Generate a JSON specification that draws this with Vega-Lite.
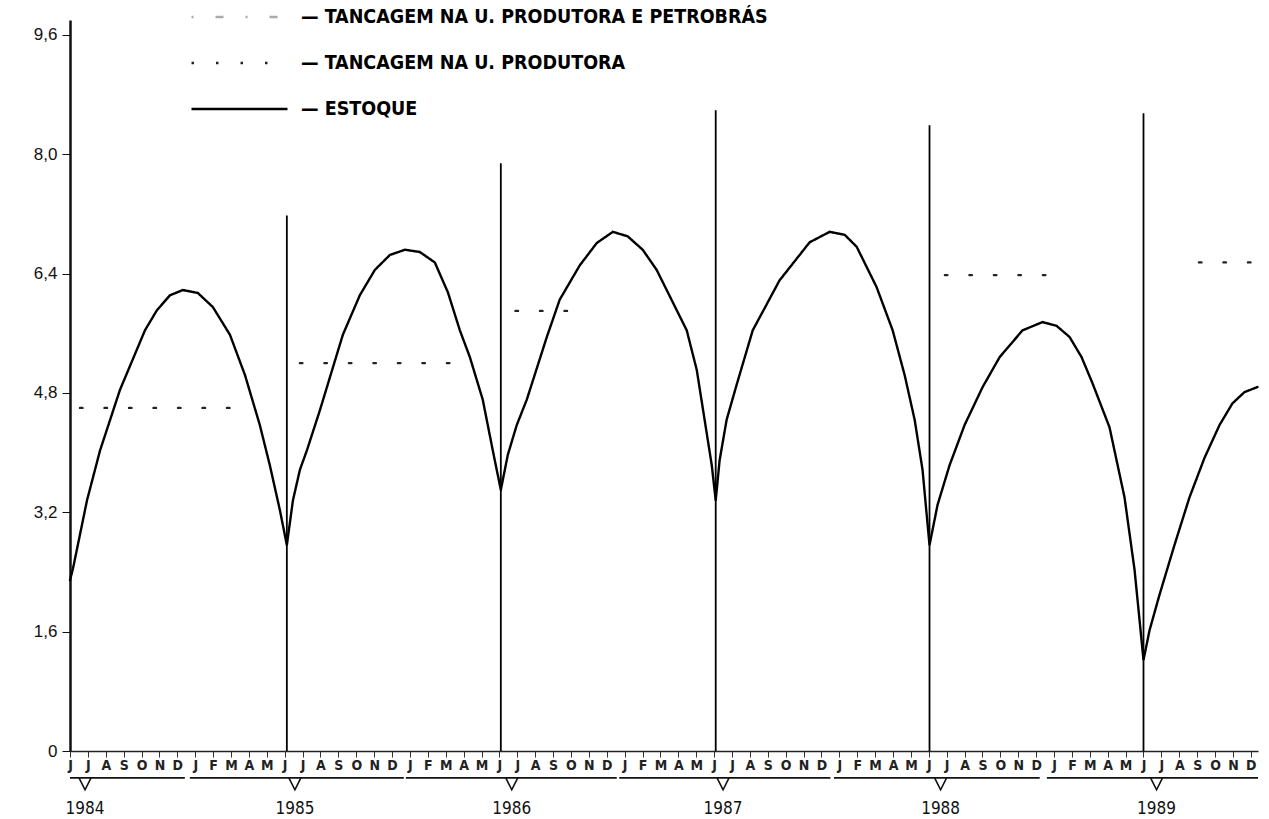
{
  "$schema": "https://vega.github.io/schema/vega-lite/v6.json",
  "width": 1188,
  "height": 731,
  "autosize": {"type": "none"},
  "padding": {"left": 70, "top": 20, "right": 11, "bottom": 68},
  "background": "white",
  "config": {
    "view": {"stroke": null},
    "font": "Liberation Sans Narrow, DejaVu Sans Condensed, Liberation Sans"
  },
  "resolve": {"axis": {"x": "independent", "y": "independent"}},
  "datasets": {
    "series": [
      {"serie": "ESTOQUE", "seg": "e", "mes": 0.00, "valor": 2.29},
      {"serie": "ESTOQUE", "seg": "e", "mes": 0.17, "valor": 2.45},
      {"serie": "ESTOQUE", "seg": "e", "mes": 0.95, "valor": 3.36},
      {"serie": "ESTOQUE", "seg": "e", "mes": 1.68, "valor": 4.03},
      {"serie": "ESTOQUE", "seg": "e", "mes": 2.79, "valor": 4.84},
      {"serie": "ESTOQUE", "seg": "e", "mes": 4.19, "valor": 5.64},
      {"serie": "ESTOQUE", "seg": "e", "mes": 4.86, "valor": 5.91},
      {"serie": "ESTOQUE", "seg": "e", "mes": 5.59, "valor": 6.11},
      {"serie": "ESTOQUE", "seg": "e", "mes": 6.31, "valor": 6.18},
      {"serie": "ESTOQUE", "seg": "e", "mes": 7.15, "valor": 6.14},
      {"serie": "ESTOQUE", "seg": "e", "mes": 7.99, "valor": 5.95},
      {"serie": "ESTOQUE", "seg": "e", "mes": 8.94, "valor": 5.58},
      {"serie": "ESTOQUE", "seg": "e", "mes": 9.78, "valor": 5.04},
      {"serie": "ESTOQUE", "seg": "e", "mes": 10.61, "valor": 4.37},
      {"serie": "ESTOQUE", "seg": "e", "mes": 11.17, "valor": 3.83},
      {"serie": "ESTOQUE", "seg": "e", "mes": 11.73, "valor": 3.23},
      {"serie": "ESTOQUE", "seg": "e", "mes": 12.12, "valor": 2.76},
      {"serie": "ESTOQUE", "seg": "e", "mes": 12.46, "valor": 3.36},
      {"serie": "ESTOQUE", "seg": "e", "mes": 12.85, "valor": 3.77},
      {"serie": "ESTOQUE", "seg": "e", "mes": 13.24, "valor": 4.03},
      {"serie": "ESTOQUE", "seg": "e", "mes": 13.97, "valor": 4.57},
      {"serie": "ESTOQUE", "seg": "e", "mes": 15.25, "valor": 5.58},
      {"serie": "ESTOQUE", "seg": "e", "mes": 16.20, "valor": 6.11},
      {"serie": "ESTOQUE", "seg": "e", "mes": 17.04, "valor": 6.45},
      {"serie": "ESTOQUE", "seg": "e", "mes": 17.88, "valor": 6.65},
      {"serie": "ESTOQUE", "seg": "e", "mes": 18.72, "valor": 6.72},
      {"serie": "ESTOQUE", "seg": "e", "mes": 19.55, "valor": 6.69},
      {"serie": "ESTOQUE", "seg": "e", "mes": 20.39, "valor": 6.55},
      {"serie": "ESTOQUE", "seg": "e", "mes": 21.12, "valor": 6.15},
      {"serie": "ESTOQUE", "seg": "e", "mes": 21.79, "valor": 5.64},
      {"serie": "ESTOQUE", "seg": "e", "mes": 22.35, "valor": 5.28},
      {"serie": "ESTOQUE", "seg": "e", "mes": 23.07, "valor": 4.71},
      {"serie": "ESTOQUE", "seg": "e", "mes": 23.63, "valor": 4.03},
      {"serie": "ESTOQUE", "seg": "e", "mes": 24.08, "valor": 3.50},
      {"serie": "ESTOQUE", "seg": "e", "mes": 24.47, "valor": 3.97},
      {"serie": "ESTOQUE", "seg": "e", "mes": 24.97, "valor": 4.37},
      {"serie": "ESTOQUE", "seg": "e", "mes": 25.53, "valor": 4.71},
      {"serie": "ESTOQUE", "seg": "e", "mes": 26.65, "valor": 5.55},
      {"serie": "ESTOQUE", "seg": "e", "mes": 27.37, "valor": 6.05},
      {"serie": "ESTOQUE", "seg": "e", "mes": 28.49, "valor": 6.51},
      {"serie": "ESTOQUE", "seg": "e", "mes": 29.44, "valor": 6.81},
      {"serie": "ESTOQUE", "seg": "e", "mes": 30.34, "valor": 6.96},
      {"serie": "ESTOQUE", "seg": "e", "mes": 31.17, "valor": 6.90},
      {"serie": "ESTOQUE", "seg": "e", "mes": 32.01, "valor": 6.72},
      {"serie": "ESTOQUE", "seg": "e", "mes": 32.79, "valor": 6.45},
      {"serie": "ESTOQUE", "seg": "e", "mes": 33.35, "valor": 6.18},
      {"serie": "ESTOQUE", "seg": "e", "mes": 34.47, "valor": 5.64},
      {"serie": "ESTOQUE", "seg": "e", "mes": 35.03, "valor": 5.11},
      {"serie": "ESTOQUE", "seg": "e", "mes": 35.47, "valor": 4.44},
      {"serie": "ESTOQUE", "seg": "e", "mes": 35.87, "valor": 3.83},
      {"serie": "ESTOQUE", "seg": "e", "mes": 36.09, "valor": 3.36},
      {"serie": "ESTOQUE", "seg": "e", "mes": 36.31, "valor": 3.90},
      {"serie": "ESTOQUE", "seg": "e", "mes": 36.70, "valor": 4.44},
      {"serie": "ESTOQUE", "seg": "e", "mes": 37.26, "valor": 4.91},
      {"serie": "ESTOQUE", "seg": "e", "mes": 38.16, "valor": 5.64},
      {"serie": "ESTOQUE", "seg": "e", "mes": 39.66, "valor": 6.31},
      {"serie": "ESTOQUE", "seg": "e", "mes": 41.34, "valor": 6.82},
      {"serie": "ESTOQUE", "seg": "e", "mes": 42.46, "valor": 6.96},
      {"serie": "ESTOQUE", "seg": "e", "mes": 43.30, "valor": 6.92},
      {"serie": "ESTOQUE", "seg": "e", "mes": 43.97, "valor": 6.76},
      {"serie": "ESTOQUE", "seg": "e", "mes": 45.08, "valor": 6.22},
      {"serie": "ESTOQUE", "seg": "e", "mes": 45.98, "valor": 5.64},
      {"serie": "ESTOQUE", "seg": "e", "mes": 46.65, "valor": 5.04},
      {"serie": "ESTOQUE", "seg": "e", "mes": 47.21, "valor": 4.44},
      {"serie": "ESTOQUE", "seg": "e", "mes": 47.65, "valor": 3.77},
      {"serie": "ESTOQUE", "seg": "e", "mes": 48.04, "valor": 2.76},
      {"serie": "ESTOQUE", "seg": "e", "mes": 48.49, "valor": 3.30},
      {"serie": "ESTOQUE", "seg": "e", "mes": 49.16, "valor": 3.83},
      {"serie": "ESTOQUE", "seg": "e", "mes": 50.00, "valor": 4.37},
      {"serie": "ESTOQUE", "seg": "e", "mes": 51.01, "valor": 4.88},
      {"serie": "ESTOQUE", "seg": "e", "mes": 51.96, "valor": 5.28},
      {"serie": "ESTOQUE", "seg": "e", "mes": 53.24, "valor": 5.64},
      {"serie": "ESTOQUE", "seg": "e", "mes": 54.36, "valor": 5.75},
      {"serie": "ESTOQUE", "seg": "e", "mes": 55.14, "valor": 5.70},
      {"serie": "ESTOQUE", "seg": "e", "mes": 55.87, "valor": 5.55},
      {"serie": "ESTOQUE", "seg": "e", "mes": 56.54, "valor": 5.28},
      {"serie": "ESTOQUE", "seg": "e", "mes": 57.15, "valor": 4.93},
      {"serie": "ESTOQUE", "seg": "e", "mes": 58.10, "valor": 4.34},
      {"serie": "ESTOQUE", "seg": "e", "mes": 58.94, "valor": 3.40},
      {"serie": "ESTOQUE", "seg": "e", "mes": 59.50, "valor": 2.43},
      {"serie": "ESTOQUE", "seg": "e", "mes": 60.00, "valor": 1.22},
      {"serie": "ESTOQUE", "seg": "e", "mes": 60.34, "valor": 1.62},
      {"serie": "ESTOQUE", "seg": "e", "mes": 60.89, "valor": 2.09},
      {"serie": "ESTOQUE", "seg": "e", "mes": 61.73, "valor": 2.76},
      {"serie": "ESTOQUE", "seg": "e", "mes": 62.57, "valor": 3.40},
      {"serie": "ESTOQUE", "seg": "e", "mes": 63.41, "valor": 3.93},
      {"serie": "ESTOQUE", "seg": "e", "mes": 64.25, "valor": 4.37},
      {"serie": "ESTOQUE", "seg": "e", "mes": 64.97, "valor": 4.66},
      {"serie": "ESTOQUE", "seg": "e", "mes": 65.64, "valor": 4.81},
      {"serie": "ESTOQUE", "seg": "e", "mes": 66.37, "valor": 4.88},
      {"serie": "TANCAGEM NA U. PRODUTORA", "seg": "t1", "mes": 0.56, "valor": 4.60},
      {"serie": "TANCAGEM NA U. PRODUTORA", "seg": "t1", "mes": 8.94, "valor": 4.60},
      {"serie": "TANCAGEM NA U. PRODUTORA", "seg": "t2", "mes": 12.85, "valor": 5.20},
      {"serie": "TANCAGEM NA U. PRODUTORA", "seg": "t2", "mes": 22.07, "valor": 5.20},
      {"serie": "TANCAGEM NA U. PRODUTORA", "seg": "t3", "mes": 24.90, "valor": 5.90},
      {"serie": "TANCAGEM NA U. PRODUTORA", "seg": "t3", "mes": 28.20, "valor": 5.90},
      {"serie": "TANCAGEM NA U. PRODUTORA", "seg": "t4", "mes": 48.90, "valor": 6.38},
      {"serie": "TANCAGEM NA U. PRODUTORA", "seg": "t4", "mes": 54.70, "valor": 6.38},
      {"serie": "TANCAGEM NA U. PRODUTORA", "seg": "t5", "mes": 63.10, "valor": 6.55},
      {"serie": "TANCAGEM NA U. PRODUTORA", "seg": "t5", "mes": 66.37, "valor": 6.55}
    ],
    "colheitas": [
      {"mes": 12.12, "topo": 7.18},
      {"mes": 24.08, "topo": 7.88},
      {"mes": 36.09, "topo": 8.59},
      {"mes": 48.04, "topo": 8.39},
      {"mes": 60.00, "topo": 8.55}
    ],
    "anos": [
      {"ano": "1984", "inicio": 0.0, "fim": 6.42, "centro": 0.84},
      {"ano": "1985", "inicio": 6.7, "fim": 18.66, "centro": 12.57},
      {"ano": "1986", "inicio": 18.77, "fim": 30.56, "centro": 24.69},
      {"ano": "1987", "inicio": 30.7, "fim": 42.5, "centro": 36.5},
      {"ano": "1988", "inicio": 42.7, "fim": 54.2, "centro": 48.66},
      {"ano": "1989", "inicio": 54.6, "fim": 66.4, "centro": 60.73}
    ]
  },
  "layer": [
    {
      "data": {"name": "series"},
      "mark": {"type": "line", "strokeWidth": 2.4, "strokeCap": "round"},
      "encoding": {
        "x": {
          "field": "mes", "type": "quantitative", "title": null,
          "scale": {"domain": [0, 66.4], "nice": false, "zero": false},
          "axis": {
            "title": null, "grid": false,
            "values": [0,1,2,3,4,5,6,7,8,9,10,11,12,13,14,15,16,17,18,19,20,21,22,23,24,25,26,27,28,29,30,31,32,33,34,35,36,37,38,39,40,41,42,43,44,45,46,47,48,49,50,51,52,53,54,55,56,57,58,59,60,61,62,63,64,65,66],
            "labelExpr": "['J','J','A','S','O','N','D','J','F','M','A','M'][datum.value % 12]",
            "labelOverlap": false, "labelFlush": false, "labelBound": false,
            "labelFontSize": 14, "labelFontWeight": "bold", "labelFont": "Liberation Sans Narrow, DejaVu Sans Condensed, Liberation Sans",
            "labelColor": "#222", "labelPadding": 1, "tickSize": 6, "tickColor": "#333",
            "domainColor": "#222", "domainWidth": 1.5
          }
        },
        "y": {
          "field": "valor", "type": "quantitative", "title": null,
          "scale": {"domain": [0, 9.8], "nice": false},
          "axis": {
            "title": null, "grid": false,
            "values": [0, 1.6, 3.2, 4.8, 6.4, 8.0, 9.6],
            "labelExpr": "datum.value == 0 ? '0' : replace(format(datum.value, '.1f'), '.', ',')",
            "labelOverlap": false, "labelFlush": false,
            "labelFontSize": 17, "labelFont": "Liberation Sans", "labelColor": "#111",
            "labelPadding": 5, "tickSize": 8, "tickColor": "#111",
            "domainColor": "#111", "domainWidth": 2.5
          }
        },
        "detail": {"field": "seg"},
        "color": {
          "field": "serie", "type": "nominal",
          "scale": {
            "domain": ["TANCAGEM NA U. PRODUTORA E PETROBRÁS", "TANCAGEM NA U. PRODUTORA", "ESTOQUE"],
            "range": ["#aaaaaa", "#222222", "#000000"]
          },
          "legend": {
            "title": null, "orient": "none", "legendX": 120, "legendY": -26,
            "symbolType": "stroke", "symbolSize": 9216, "symbolStrokeWidth": 2.5,
            "labelFont": "Liberation Sans Narrow, DejaVu Sans Condensed, Liberation Sans", "labelFontWeight": "bold", "labelFontSize": 19.5,
            "labelColor": "#000", "labelLimit": 800, "labelOffset": 12,
            "clipHeight": 46, "rowPadding": 0,
            "labelExpr": "'— ' + datum.label"
          }
        },
        "strokeDash": {
          "field": "serie", "type": "nominal",
          "scale": {
            "domain": ["TANCAGEM NA U. PRODUTORA E PETROBRÁS", "TANCAGEM NA U. PRODUTORA", "ESTOQUE"],
            "range": [[2, 22, 8, 22], [2.5, 22], [1, 0]]
          },
          "legend": {
            "title": null, "orient": "none", "legendX": 120, "legendY": -26,
            "symbolType": "stroke", "symbolSize": 9216, "symbolStrokeWidth": 2.5,
            "labelFont": "Liberation Sans Narrow, DejaVu Sans Condensed, Liberation Sans", "labelFontWeight": "bold", "labelFontSize": 19.5,
            "labelColor": "#000", "labelLimit": 800, "labelOffset": 12,
            "clipHeight": 46, "rowPadding": 0,
            "labelExpr": "'— ' + datum.label"
          }
        }
      }
    },
    {
      "data": {"name": "colheitas"},
      "mark": {"type": "rule", "strokeWidth": 1.8, "color": "#000"},
      "encoding": {
        "x": {"field": "mes", "type": "quantitative", "axis": null},
        "y": {"field": "topo", "type": "quantitative", "axis": null},
        "y2": {"datum": 0}
      }
    },
    {
      "data": {"name": "anos"},
      "mark": {"type": "rule", "strokeWidth": 1.6, "color": "#111"},
      "encoding": {
        "x": {"field": "inicio", "type": "quantitative", "axis": null},
        "x2": {"field": "fim"},
        "y": {"datum": -0.36, "type": "quantitative", "axis": null}
      }
    },
    {
      "data": {"name": "anos"},
      "mark": {"type": "point", "shape": "M-1,-1L0,1L1,-1", "filled": false, "size": 144, "strokeWidth": 1.6, "color": "#111", "opacity": 1},
      "encoding": {
        "x": {"field": "centro", "type": "quantitative", "axis": null},
        "y": {"datum": -0.44, "type": "quantitative", "axis": null}
      }
    },
    {
      "data": {"name": "anos"},
      "mark": {"type": "text", "font": "Liberation Sans Narrow, DejaVu Sans Condensed, Liberation Sans", "fontSize": 17, "color": "#111", "align": "center", "baseline": "middle"},
      "encoding": {
        "x": {"field": "centro", "type": "quantitative", "axis": null},
        "y": {"datum": -0.78, "type": "quantitative", "axis": null},
        "text": {"field": "ano"}
      }
    }
  ]
}
